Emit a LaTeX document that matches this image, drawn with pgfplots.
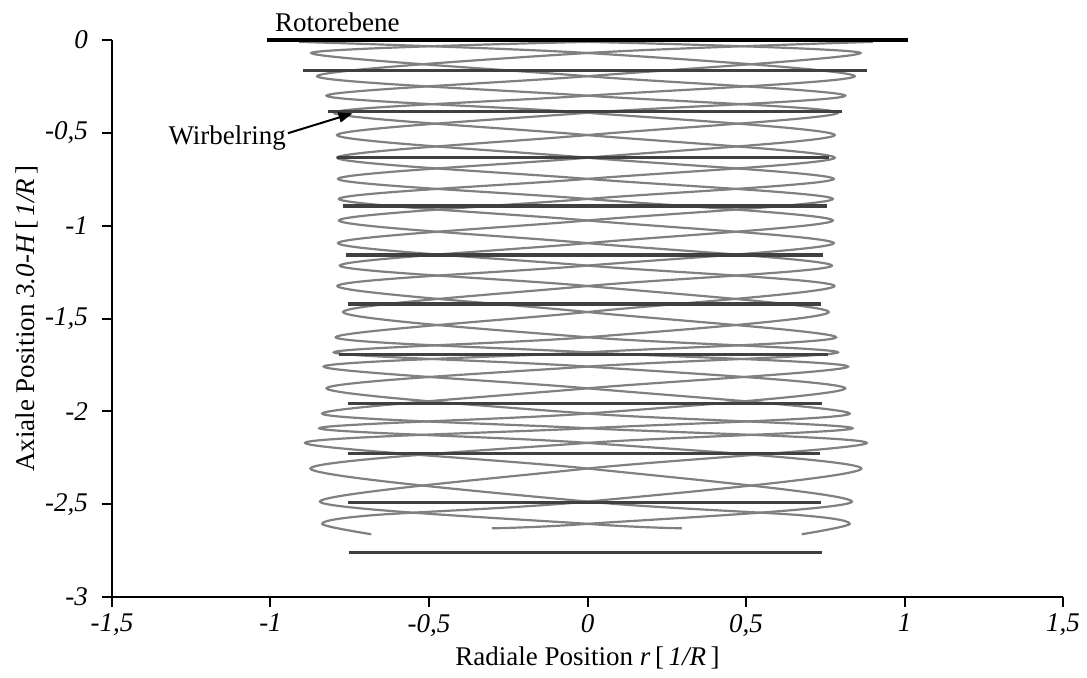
\documentclass[border=0pt]{standalone}
\usepackage{fontspec}
\setmainfont{Liberation Serif}
\usepackage{pgfplots}
\pgfplotsset{compat=1.18}
\usetikzlibrary{arrows.meta}
\definecolor{curvegray}{RGB}{128,128,128}
\definecolor{ringgray}{RGB}{64,64,64}
\newcommand{\fs}{\fontsize{13.5}{16}\selectfont}

\begin{document}
\begin{tikzpicture}
\begin{axis}[
  at={(0,0)}, anchor=south west,
  scale only axis, width=475.5pt, height=278.5pt,
  xmin=-1.5, xmax=1.5, ymin=-3, ymax=0,
  axis x line=bottom, axis y line=left,
  axis line style={-, line width=1pt},
  tick align=outside, major tick length=5pt,
  tick style={black, line width=1pt},
  xtick={-1.5,-1,-0.5,0,0.5,1,1.5},
  xticklabels={{-1,5},{-1},{-0,5},{0},{0,5},{1},{1,5}},
  ytick={-3,-2.5,-2,-1.5,-1,-0.5,0},
  yticklabels={{-3},{-2,5},{-2},{-1,5},{-1},{-0,5},{0}},
  ticklabel style={font=\fs\itshape},
  yticklabel style={xshift=-3.5pt},
  label style={font=\fs},
  xlabel style={yshift=1.5pt},
  ylabel shift={-3.5pt},
  xlabel={Radiale Position \textit{r}\,[\,\textit{1/R}\,]},
  ylabel={Axiale Position \textit{3.0-H}\,[\,\textit{1/R}\,]},
  clip=false,
]
% blade tip vortices (4 blades)
\addplot[curvegray, line width=1.1pt, smooth, tension=0.5] coordinates {
 (0.900,-0.010) (0,-0.070) (-0.853,-0.195) (0,-0.300) (0.790,-0.392) (0,-0.512)
 (-0.790,-0.634) (0,-0.748) (0.774,-0.856) (0,-0.972) (-0.787,-1.094) (0,-1.215)
 (0.779,-1.325) (0,-1.465) (-0.794,-1.601) (0,-1.682) (0.822,-1.759) (0,-1.876)
 (-0.837,-2.012) (0,-2.091) (0.881,-2.170) (0,-2.308) (-0.844,-2.486) (0,-2.606)
 (0.298,-2.630)};
\addplot[curvegray, line width=1.1pt, smooth, tension=0.5] coordinates {
 (-0.910,-0.010) (0,-0.070) (0.843,-0.195) (0,-0.300) (-0.800,-0.392) (0,-0.512)
 (0.780,-0.634) (0,-0.748) (-0.784,-0.856) (0,-0.972) (0.777,-1.094) (0,-1.215)
 (-0.789,-1.325) (0,-1.465) (0.784,-1.601) (0,-1.682) (-0.832,-1.759) (0,-1.876)
 (0.827,-2.012) (0,-2.091) (-0.891,-2.170) (0,-2.308) (0.834,-2.486) (0,-2.606)
 (-0.302,-2.630)};
\addplot[curvegray, line width=1.1pt, smooth, tension=0.5] coordinates {
 (0,-0.010) (-0.871,-0.070) (0,-0.195) (0.813,-0.300) (0,-0.392) (-0.790,-0.512)
 (0,-0.634) (0.777,-0.748) (0,-0.856) (-0.784,-0.972) (0,-1.094) (0.771,-1.215)
 (0,-1.325) (-0.771,-1.465) (0,-1.601) (0.790,-1.682) (0,-1.759) (-0.823,-1.876)
 (0,-2.012) (0.836,-2.091) (0,-2.170) (-0.874,-2.308) (0,-2.486) (0.676,-2.560)
 (0.827,-2.606) (0.676,-2.662)};
\addplot[curvegray, line width=1.1pt, smooth, tension=0.5] coordinates {
 (0,-0.010) (0.861,-0.070) (0,-0.195) (-0.823,-0.300) (0,-0.392) (0.780,-0.512)
 (0,-0.634) (-0.787,-0.748) (0,-0.856) (0.774,-0.972) (0,-1.094) (-0.781,-1.215)
 (0,-1.325) (0.761,-1.465) (0,-1.601) (-0.800,-1.682) (0,-1.759) (0.813,-1.876)
 (0,-2.012) (-0.846,-2.091) (0,-2.170) (0.864,-2.308) (0,-2.486) (-0.682,-2.560)
 (-0.837,-2.606) (-0.682,-2.662)};
% vortex rings
\addplot[ringgray, line width=1.8pt] coordinates {(-0.896,-0.165) (0.881,-0.165)};
\addplot[ringgray, line width=1.8pt] coordinates {(-0.818,-0.386) (0.802,-0.386)};
\addplot[ringgray, line width=1.8pt] coordinates {(-0.790,-0.632) (0.763,-0.632)};
\addplot[ringgray, line width=1.8pt] coordinates {(-0.772,-0.894) (0.755,-0.894)};
\addplot[ringgray, line width=1.8pt] coordinates {(-0.761,-1.158) (0.742,-1.158)};
\addplot[ringgray, line width=1.8pt] coordinates {(-0.755,-1.422) (0.736,-1.422)};
\addplot[ringgray, line width=1.8pt] coordinates {(-0.783,-1.693) (0.760,-1.693)};
\addplot[ringgray, line width=1.8pt] coordinates {(-0.755,-1.957) (0.741,-1.957)};
\addplot[ringgray, line width=1.8pt] coordinates {(-0.755,-2.226) (0.733,-2.226)};
\addplot[ringgray, line width=1.8pt] coordinates {(-0.755,-2.492) (0.736,-2.492)};
\addplot[ringgray, line width=1.8pt] coordinates {(-0.752,-2.761) (0.739,-2.761)};
% rotor plane
\addplot[black, line width=2pt] coordinates {(-1.01,0) (1.01,0)};
\node[anchor=base west, font=\fs, inner sep=0pt] at (axis cs:-0.987,0.045) {Rotorebene};
\node[anchor=base west, font=\fs, inner sep=0pt] at (axis cs:-1.323,-0.565) {Wirbelring};
\draw[black, line width=1pt, -{Triangle[length=7pt,width=5pt]}]
  (axis cs:-0.945,-0.502) -- (axis cs:-0.741,-0.395);
\end{axis}
\pgfresetboundingbox
\path (-56pt,-40pt) rectangle (487.5pt,298.5pt);
\end{tikzpicture}
\end{document}
